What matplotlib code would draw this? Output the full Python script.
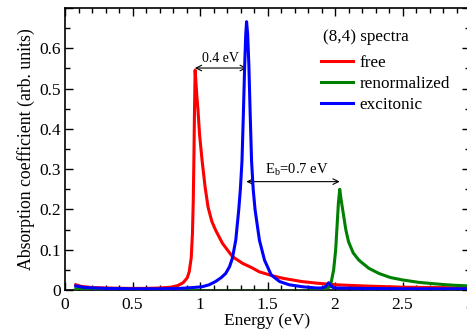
import matplotlib
matplotlib.use("Agg")
import matplotlib.pyplot as plt
from matplotlib.ticker import MultipleLocator, FixedLocator

plt.rcParams['font.family'] = ['Liberation Serif', 'DejaVu Serif']
plt.rcParams['mathtext.fontset'] = 'custom'
plt.rcParams['mathtext.rm'] = 'Liberation Serif'
plt.rcParams['mathtext.it'] = 'Liberation Serif:italic'

# free spectrum
free_E = [0.08, 0.12, 0.2, 0.3, 0.45, 0.6, 0.7, 0.785, 0.835, 0.875,
          0.905, 0.92, 0.935, 0.944, 0.95, 0.955, 0.959, 0.964, 0.969, 0.977,
          0.985, 0.997, 1.015, 1.038, 1.06, 1.088, 1.115, 1.166, 1.24, 1.316,
          1.38, 1.44, 1.54, 1.616, 1.753, 1.864, 2.005, 2.216, 2.5, 2.77, 3.0]
free_A = [0.013, 0.009, 0.006, 0.005, 0.004, 0.004, 0.005, 0.007, 0.011, 0.018,
          0.03, 0.045, 0.08, 0.14, 0.22, 0.33, 0.44, 0.546, 0.52, 0.48,
          0.447, 0.385, 0.323, 0.255, 0.205, 0.17, 0.149, 0.116, 0.083, 0.066,
          0.056, 0.045, 0.035, 0.029, 0.021, 0.017, 0.013, 0.01, 0.007, 0.006, 0.005]

# renormalized spectrum
ren_E = [0.08, 0.3, 0.6, 0.9, 1.0, 1.2, 1.5, 1.8, 1.866, 1.92, 1.965,
         1.99, 2.005, 2.015, 2.025, 2.035, 2.045, 2.065, 2.08, 2.1, 2.135,
         2.177, 2.25, 2.326, 2.41, 2.5, 2.62, 2.75, 2.87, 3.0]
ren_A = [0.003, 0.001, 0.001, 0.001, -0.003, -0.003, -0.003, -0.003, 0.0, 0.003, 0.008,
         0.05, 0.1, 0.157, 0.215, 0.25, 0.225, 0.182, 0.15, 0.12, 0.092,
         0.074, 0.054, 0.041, 0.031, 0.025, 0.019, 0.015, 0.012, 0.01]

# excitonic spectrum
exc_E = [0.08, 0.15, 0.3, 0.5, 0.7, 0.85, 0.945, 1.015, 1.068, 1.115,
         1.158, 1.19, 1.219, 1.24, 1.265, 1.287, 1.299, 1.311, 1.321, 1.331,
         1.339, 1.345, 1.353, 1.362, 1.372, 1.382, 1.394, 1.408, 1.44, 1.478,
         1.528, 1.59, 1.66, 1.76, 1.86, 1.91, 1.935, 1.953, 1.968, 1.985,
         2.01, 2.2, 2.5, 3.0]
exc_A = [0.01, 0.006, 0.004, 0.003, 0.003, 0.004, 0.006, 0.008, 0.013, 0.021,
         0.031, 0.041, 0.058, 0.079, 0.124, 0.199, 0.25, 0.32, 0.434, 0.558,
         0.635, 0.666, 0.635, 0.558, 0.434, 0.32, 0.25, 0.199, 0.124, 0.074,
         0.037, 0.021, 0.013, 0.008, 0.005, 0.005, 0.01, 0.018, 0.012, 0.006,
         0.005, 0.004, 0.003, 0.003]

x_ticks = [0, 0.5, 1, 1.5, 2, 2.5, 3]
x_labels = ["0", "0.5", "1", "1.5", "2", "2.5", "3"]
y_ticks = [0, 0.1, 0.2, 0.3, 0.4, 0.5, 0.6]
y_labels = ["0", "0.1", "0.2", "0.3", "0.4", "0.5", "0.6"]

fig = plt.figure(figsize=(4.67, 3.33), dpi=100)
ax = fig.add_axes([65/467, 43/333, 405/467, 282/333])

ax.plot(free_E, free_A, color='#ff0000', lw=2.2, label='free', zorder=3)
ax.plot(ren_E, ren_A, color='#008000', lw=2.2, label='renormalized', zorder=4)
ax.plot(exc_E, exc_A, color='#0000ff', lw=2.2, label='excitonic', zorder=5)

ax.set_xlim(0, 3)
ax.set_ylim(0, 0.7)
ax.xaxis.set_major_locator(FixedLocator(x_ticks))
ax.set_xticklabels(x_labels)
ax.xaxis.set_minor_locator(MultipleLocator(0.1))
ax.yaxis.set_major_locator(FixedLocator(y_ticks + [0.7]))
ax.set_yticklabels(y_labels + [""])
ax.yaxis.set_minor_locator(MultipleLocator(0.05))
ax.tick_params(which='both', direction='in', top=True, right=True,
               labelsize=12.5, width=1.0)
ax.tick_params(axis='x', pad=5)
ax.tick_params(axis='y', pad=3)
ax.tick_params(which='major', length=6)
ax.tick_params(which='minor', length=3.5)
for s in ax.spines.values():
    s.set_linewidth(1.2)

ax.set_xlabel('Energy (eV)', fontsize=12.5, labelpad=0)
ax.set_ylabel('Absorption coefficient (arb. units)', fontsize=12.8, labelpad=3)

# annotations
ax.annotate('', xy=(0.962, 0.551), xytext=(1.347, 0.551),
            arrowprops=dict(arrowstyle='<->', lw=0.8, color='black',
                            shrinkA=0, shrinkB=0, mutation_scale=10))
ax.text(1.15, 0.559, '0.4 eV', ha='center', va='bottom', fontsize=10)
ax.annotate('', xy=(1.343, 0.269), xytext=(2.035, 0.269),
            arrowprops=dict(arrowstyle='<->', lw=0.8, color='black',
                            shrinkA=0, shrinkB=0, mutation_scale=10))
ax.text(1.72, 0.277, r'E$_\mathrm{b}$=0.7 eV', ha='center', va='bottom', fontsize=10.5)

ax.text(0.637, 0.897, '(8,4) spectra', transform=ax.transAxes,
        ha='left', va='center', fontsize=12.3)
leg = ax.legend(loc='upper left', bbox_to_anchor=(0.615, 0.857), frameon=False,
                fontsize=12.3, handlelength=1.9, handletextpad=0.38,
                labelspacing=0.3, borderaxespad=0)

fig.savefig('out.png', dpi=100)
